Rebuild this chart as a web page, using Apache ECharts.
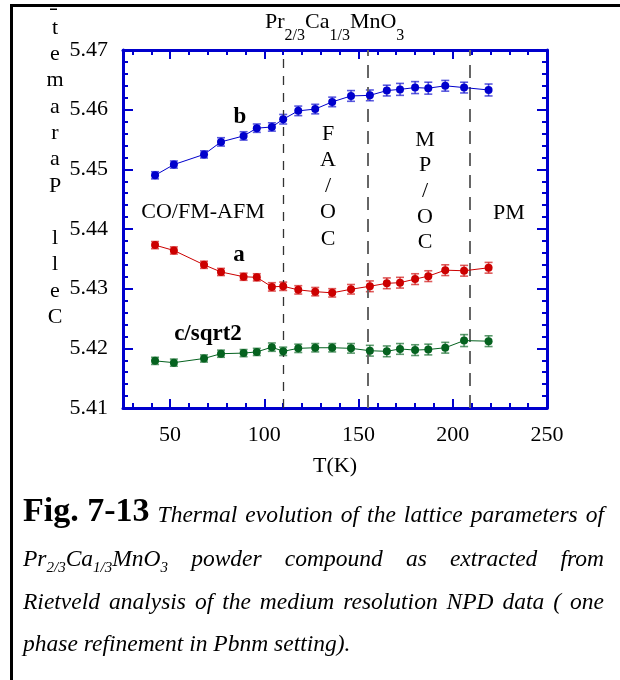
<!DOCTYPE html>
<html>
<head>
<meta charset="utf-8">
<script src="https://cdn.jsdelivr.net/npm/echarts@6/dist/echarts.min.js"></script>
<style>
  html, body { margin: 0; padding: 0; background: #fff; }
  #chart { width: 620px; height: 680px; }
</style>
</head>
<body>
<div id="chart"></div>
<script>
// Temperatures (K) of the powder refinements
const temperatures = [42, 52, 68, 77, 89, 96, 104, 110, 118, 127, 136, 146, 156, 165, 172, 180, 187, 196, 206, 219];

// Lattice parameter b (Å) and its standard deviation
const latticeB    = [5.4490, 5.4508, 5.4525, 5.4546, 5.4556, 5.4569, 5.4571, 5.4584, 5.4598, 5.4601,
                     5.4613, 5.4623, 5.4624, 5.4632, 5.4634, 5.4637, 5.4636, 5.4640, 5.4637, 5.4633];
const latticeBErr = [0.0006, 0.0006, 0.0006, 0.0007, 0.0007, 0.0007, 0.0007, 0.0008, 0.0008, 0.0008,
                     0.0008, 0.0009, 0.0009, 0.0009, 0.0010, 0.0010, 0.0010, 0.0009, 0.0009, 0.0010];

// Lattice parameter a (Å)
const latticeA    = [5.4373, 5.4364, 5.4340, 5.4328, 5.4320, 5.4319, 5.4303, 5.4304, 5.4298, 5.4295,
                     5.4293, 5.4299, 5.4304, 5.4309, 5.4310, 5.4316, 5.4321, 5.4331, 5.4330, 5.4335];
const latticeAErr = [0.0006, 0.0006, 0.0006, 0.0006, 0.0006, 0.0006, 0.0007, 0.0007, 0.0007, 0.0007,
                     0.0007, 0.0008, 0.0009, 0.0009, 0.0009, 0.0009, 0.0009, 0.0009, 0.0009, 0.0009];

// Lattice parameter c / sqrt(2) (Å)
const latticeC    = [5.4179, 5.4176, 5.4183, 5.4191, 5.4192, 5.4194, 5.4202, 5.4195, 5.4200, 5.4201,
                     5.4201, 5.4200, 5.4196, 5.4195, 5.4199, 5.4197, 5.4198, 5.4201, 5.4213, 5.4212];
const latticeCErr = [0.0006, 0.0006, 0.0006, 0.0006, 0.0006, 0.0006, 0.0007, 0.0007, 0.0007, 0.0007,
                     0.0007, 0.0008, 0.0009, 0.0009, 0.0009, 0.0009, 0.0009, 0.0009, 0.0010, 0.0009];

// Transition temperatures separating the ordered phases (K)
const transitions = [110, 155, 209];

// Axis ranges and ticks
const xRange = [25, 250];
const xMajorTicks = [50, 100, 150, 200, 250];
const xMinorTicks = [30, 40, 50, 60, 70, 80, 90, 100, 110, 120, 130, 140, 150, 160, 170, 180, 190, 200, 210, 220, 230, 240, 250];
const yRange = [5.41, 5.47];
const yStep = 0.01;

const SERIF = '"Liberation Serif", "Times New Roman", serif';
const AXIS_BLUE = '#0000cd';
const COL_B = '#0000cc';
const COL_A = '#cc0000';
const COL_C = '#05621f';

const chart = echarts.init(document.getElementById('chart'), null, { renderer: 'canvas' });

// ---------- helpers for free text ----------
const measureCtx = document.createElement('canvas').getContext('2d');
function fontString(seg) {
  return (seg.italic ? 'italic ' : '') + (seg.bold ? 'bold ' : '') + seg.size + 'px ' + SERIF;
}
function segWidth(seg) {
  measureCtx.font = fontString(seg);
  return measureCtx.measureText(seg.t).width;
}
const graphics = [];
function textEl(str, x, y, size, extra) {
  const st = Object.assign({
    text: str, fontFamily: SERIF, fontSize: size, fill: '#000',
    align: 'center', verticalAlign: 'middle', textAlign: 'center', textVerticalAlign: 'middle'
  }, extra || {});
  graphics.push({ type: 'text', x: x, y: y, silent: true, z: 100, style: st });
}
// draw a run of segments sharing one baseline; returns end x
function drawSegments(segs, x, baseline) {
  segs.forEach(seg => {
    const w = segWidth(seg);
    const mid = baseline + (seg.dy || 0) - 0.3375 * seg.size;
    textEl(seg.t, x, mid, seg.size, {
      fontStyle: seg.italic ? 'italic' : 'normal',
      fontWeight: seg.bold ? 'bold' : 'normal',
      align: 'left', textAlign: 'left'
    });
    x += w;
  });
  return x;
}
function layoutLine(words, left, right, baseline, justify) {
  const widths = words.map(w => w.reduce((s, seg) => s + segWidth(seg), 0));
  const total = widths.reduce((a, b) => a + b, 0);
  const normalSpace = segWidth({ t: ' ', size: words[words.length - 1][0].size, italic: true });
  const gap = justify ? (right - left - total) / (words.length - 1) : normalSpace;
  let x = left;
  words.forEach((w, i) => { drawSegments(w, x, baseline); x += widths[i] + gap; });
}
const CAP = 23.5;
const italicWords = s => s.split(' ').map(w => [{ t: w, size: CAP, italic: true }]);
const formulaWord = (size, sub, dy) => [
  { t: 'Pr', size: size, italic: true }, { t: '2/3', size: sub, italic: true, dy: dy },
  { t: 'Ca', size: size, italic: true }, { t: '1/3', size: sub, italic: true, dy: dy },
  { t: 'MnO', size: size, italic: true }, { t: '3', size: sub, italic: true, dy: dy }
];

// ---------- frame ----------
graphics.push({ type: 'line', silent: true, shape: { x1: 10, y1: 5.5, x2: 620, y2: 5.5 }, style: { stroke: '#000', lineWidth: 3 } });
graphics.push({ type: 'line', silent: true, shape: { x1: 11.5, y1: 4, x2: 11.5, y2: 680 }, style: { stroke: '#000', lineWidth: 3 } });

// ---------- compound title above the plot ----------
drawSegments([
  { t: 'Pr', size: 22 }, { t: '2/3', size: 16, dy: 11 },
  { t: 'Ca', size: 22 }, { t: '1/3', size: 16, dy: 11 },
  { t: 'MnO', size: 22 }, { t: '3', size: 16, dy: 11 }
], 265, 30);

// ---------- stacked y axis title ----------
graphics.push({ type: 'rect', silent: true, shape: { x: 50, y: 8.5, width: 7, height: 1.5 }, style: { fill: '#000' } });
const yTitleLetters = ['t', 'e', 'm', 'a', 'r', 'a', 'P', '', 'l', 'l', 'e', 'C'];
yTitleLetters.forEach((ch, i) => { if (ch) textEl(ch, 55, 28 + i * 26.3, 22); });

// ---------- phase labels ----------
textEl('CO/FM-AFM', 203, 212, 22);
['F', 'A', '/', 'O', 'C'].forEach((ch, i) => textEl(ch, 328, 134 + i * 26.2, 22));
['M', 'P', '/', 'O', 'C'].forEach((ch, i) => textEl(ch, 425, 140 + i * 25.6, 22));
textEl('PM', 509, 213, 22);

// ---------- curve labels ----------
textEl('b', 240, 117, 23, { fontWeight: 'bold' });
textEl('a', 239, 255, 23, { fontWeight: 'bold' });
textEl('c/sqrt2', 208, 334, 23, { fontWeight: 'bold' });

// ---------- caption ----------
const capLeft = 23, capRight = 604;
layoutLine([[{ t: 'Fig. 7-13', size: 34, bold: true }]].concat(italicWords('Thermal evolution of the lattice parameters of')),
  capLeft, capRight, 524, true);
layoutLine([formulaWord(CAP, 15, 5)].concat(italicWords('powder compound as extracted from')),
  capLeft, capRight, 568, true);
layoutLine(italicWords('Rietveld analysis of the medium resolution NPD data ( one'), capLeft, capRight, 611, true);
layoutLine(italicWords('phase refinement in Pbnm setting).'), capLeft, capRight, 653, false);

// ---------- series ----------
function pairs(values) { return temperatures.map((t, i) => [t, values[i]]); }
function lineSeries(values, color) {
  return {
    type: 'line', data: pairs(values), symbol: 'circle', symbolSize: 8,
    itemStyle: { color: color }, lineStyle: { color: color, width: 1 }, z: 5, silent: true
  };
}
function errorSeries(values, errs, color) {
  return {
    type: 'custom', silent: true, z: 4,
    data: temperatures.map((t, i) => [t, values[i] - errs[i], values[i] + errs[i]]),
    encode: { x: 0, y: [1, 2] },
    renderItem: function (params, api) {
      const x = api.value(0);
      const lo = api.coord([x, api.value(1)]);
      const hi = api.coord([x, api.value(2)]);
      const hw = 4;
      const st = { stroke: color, lineWidth: 1.6, opacity: 0.65 };
      return {
        type: 'group', children: [
          { type: 'line', shape: { x1: lo[0], y1: lo[1], x2: hi[0], y2: hi[1] }, style: st },
          { type: 'line', shape: { x1: lo[0] - hw, y1: lo[1], x2: lo[0] + hw, y2: lo[1] }, style: st },
          { type: 'line', shape: { x1: hi[0] - hw, y1: hi[1], x2: hi[0] + hw, y2: hi[1] }, style: st }
        ]
      };
    }
  };
}

const tickFont = { fontFamily: SERIF, fontSize: 22, color: '#000' };
function xAxisDef(position, ticks, len, withLabels) {
  return {
    type: 'value', min: xRange[0], max: xRange[1], position: position,
    axisLine: { show: withLabels, onZero: false, lineStyle: { color: AXIS_BLUE, width: 3 } },
    axisTick: { show: true, inside: true, length: len, customValues: ticks, lineStyle: { color: AXIS_BLUE, width: 2 } },
    axisLabel: withLabels && position === 'bottom'
      ? Object.assign({ show: true, customValues: xMajorTicks, margin: 16, hideOverlap: false }, tickFont)
      : { show: false },
    splitLine: { show: false },
    name: withLabels && position === 'bottom' ? 'T(K)' : '',
    nameLocation: 'middle', nameGap: 47,
    nameTextStyle: { fontFamily: SERIF, fontSize: 22, color: '#000' }
  };
}
function yAxisDef(position, withLabels) {
  return {
    type: 'value', min: yRange[0], max: yRange[1], interval: yStep, position: position,
    axisLine: { show: true, onZero: false, lineStyle: { color: AXIS_BLUE, width: 3 } },
    axisTick: { show: true, inside: true, length: 10, lineStyle: { color: AXIS_BLUE, width: 2 } },
    minorTick: { show: true, splitNumber: 5, length: 5, lineStyle: { color: AXIS_BLUE, width: 2 } },
    axisLabel: withLabels
      ? Object.assign({ show: true, margin: 15, formatter: v => v.toFixed(2), showMinLabel: true, showMaxLabel: true, hideOverlap: false }, tickFont)
      : { show: false },
    splitLine: { show: false }, minorSplitLine: { show: false }
  };
}

const boundarySeries = {
  type: 'line', data: [], silent: true,
  markLine: {
    silent: true, symbol: 'none', label: { show: false },
    data: transitions.map((t, i) => ({
      xAxis: t,
      lineStyle: i === 0
        ? { type: [9, 8], color: '#333', width: 1.3 }
        : { type: [13, 9], color: '#666', width: 2 }
    }))
  }
};

chart.setOption({
  animation: false,
  backgroundColor: '#fff',
  grid: { left: 123, top: 50, right: 73, bottom: 272, containLabel: false },
  xAxis: [
    xAxisDef('bottom', xMinorTicks, 5, true),
    xAxisDef('bottom', xMajorTicks, 9, false),
    xAxisDef('top', xMinorTicks, 5, true),
    xAxisDef('top', xMajorTicks, 9, false)
  ],
  yAxis: [yAxisDef('left', true), yAxisDef('right', false)],
  series: [
    boundarySeries,
    errorSeries(latticeB, latticeBErr, COL_B),
    errorSeries(latticeA, latticeAErr, COL_A),
    errorSeries(latticeC, latticeCErr, COL_C),
    lineSeries(latticeB, COL_B),
    lineSeries(latticeA, COL_A),
    lineSeries(latticeC, COL_C)
  ],
  graphic: { elements: graphics }
});
</script>
</body>
</html>
